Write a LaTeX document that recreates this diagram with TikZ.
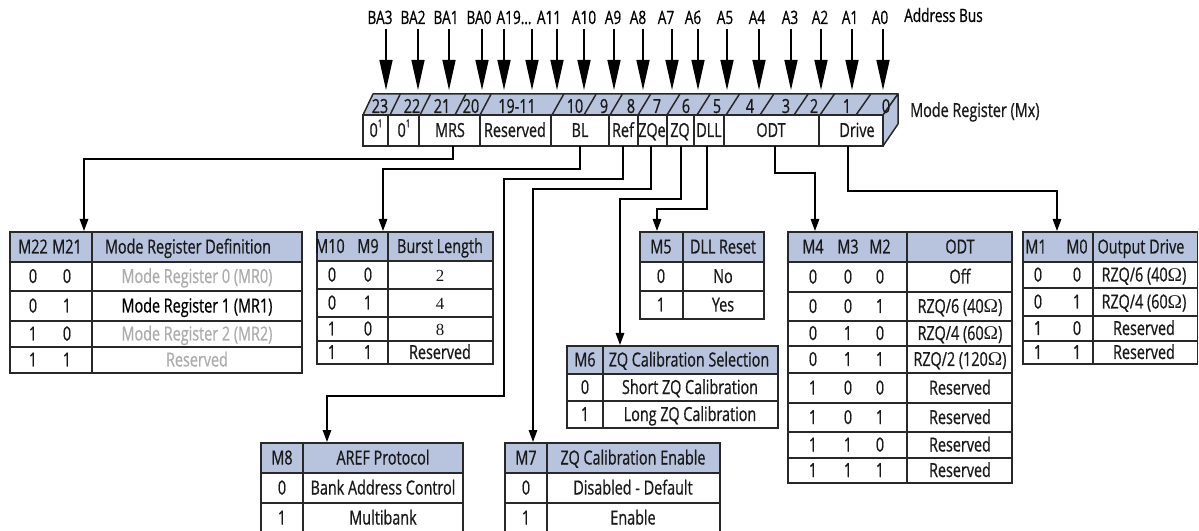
\documentclass[tikz,border=0pt]{standalone}
\usepackage{fontspec}
\setmainfont{Open Sans}[FakeStretch=0.74,FakeBold=0.7]
\newfontfamily\serifface{Liberation Serif}
\usetikzlibrary{arrows.meta}
\definecolor{hdrblue}{RGB}{184,196,221}
\definecolor{greytext}{RGB}{172,172,172}
\definecolor{linegray}{RGB}{40,40,40}
\newcommand{\ohmsym}{{\serifface Ω}}
\newcommand{\serdig}[1]{{\serifface\fontsize{17}{18}\selectfont #1}}
\newcommand{\smallsup}[1]{\raisebox{0.5em}{\fontsize{11}{12}\selectfont #1}}
\newcommand{\regtable}[4]{%
  \foreach \yy [count=\k] in {#4} {\xdef\ylast{\yy}\ifnum\k=1 \xdef\yfirst{\yy}\fi\ifnum\k=2 \xdef\ysecond{\yy}\fi}%
  \fill[hdrblue] (#1,\yfirst) rectangle (#3,\ysecond);
  \foreach \yy in {#4} {\draw[tline] (#1,\yy) -- (#3,\yy);}
  \draw[tline] (#1,\yfirst) rectangle (#3,\ylast);
  \draw[tline] (#2,\yfirst) -- (#2,\ylast);
}
\begin{document}
\begin{tikzpicture}[x=1bp,y=-1bp,
  tt/.style={font=\fontsize{19.5}{21}\selectfont, inner sep=0pt, anchor=base, text=black!90},
  lab/.style={font=\fontsize{18.5}{20}\selectfont, inner sep=0pt, anchor=base},
  bus/.style={line width=1.4bp, -{Triangle[length=30bp,width=13bp]}},
  conn/.style={line width=1.4bp, -{Triangle[length=12bp,width=8.5bp]}},
  tline/.style={line width=1.5bp, draw=linegray},
  face/.style={fill=hdrblue, draw=linegray, line width=1.5bp, line join=round}]
\useasboundingbox (0,0) rectangle (1199,531);
\begin{scope}
\clip (0,0) rectangle (1199,531);

% ---------- Address bus ----------
\foreach \x/\t [count=\i] in {380/BA3,413/BA2,446/BA1,479/BA0,549/A11,584/A10,613/A9,638/A8,666/A7,693/A6,725/A5,757/A4,790/A3,820/A2,850/A1,880/A0}
  \node[lab] (lb\i) at (\x,24) {\t};
\node[lab] (lbA19) at (514,24) {A19\ldots};
\node[lab, anchor=base west] (lbbus) at (904,22) {Address Bus};
\foreach \x [count=\i] in {386,418,449,482,504,532,557,584,614,643,672,698,727,759,791,821,852,883}{
  \coordinate (bs\i) at (\x,29);
  \coordinate (be\i) at (\x,90);
  \draw[bus] (bs\i) -- (be\i);
}

% ---------- Register ----------
\draw[face] (363,115) -- (373,94) -- (898,94) -- (883,115) -- cycle;
\draw[face] (883,115) -- (898,94) -- (898,124) -- (883,146) -- cycle;
\draw[tline, fill=white] (363,115) rectangle (883,146);
\foreach \x in {388,419,480,551,609,638,667,694,724,819}
  \draw[tline] (\x,115) -- (\x,146);
\foreach \x in {390,420,455,480,552,584,610,638,667,697,726,760,794,820,856}
  \draw[tline] (\x,115) -- ({\x+10+5*(\x-363)/520},94);
\foreach \x/\t [count=\i] in {380/23,412/22,442/21,471/20,517/19-11,575/10,604/9,631/8,657/7,686/6,717/5,750/4,786/3,814/2,847/1,886/0}
  \node[tt] (bn\i) at (\x,113) {\t};
\node[tt] (cz1) at (376,137) {0\smallsup{1}};
\node[tt] (cz2) at (404,137) {0\smallsup{1}};
\node[tt] (cMRS) at (450,137) {MRS};
\node[tt] (cRes) at (515,137) {Reserved};
\node[tt] (cBL) at (580,137) {BL};
\node[tt] (cRef) at (623,137) {Ref};
\node[tt] (cZQe) at (652,137) {ZQe};
\node[tt] (cZQ) at (680,137) {ZQ};
\node[tt] (cDLL) at (709,137) {DLL};
\node[tt] (cODT) at (771,137) {ODT};
\node[tt] (cDrv) at (857,137) {Drive};
\node[tt, anchor=base west] (mreg) at (910,117) {Mode Register (Mx)};

% ---------- connectors ----------
\coordinate (oMRS) at (453,146);  \coordinate (iMR) at (84,231);
\coordinate (oBL) at (580,146);   \coordinate (iBL) at (383,231);
\coordinate (oRef) at (623,146);  \coordinate (iRef) at (327,442);
\coordinate (oZQe) at (651,146);  \coordinate (iZQe) at (533,442);
\coordinate (oZQ) at (681,146);   \coordinate (iZQ) at (620,345);
\coordinate (oDLL) at (707,146);  \coordinate (iDLL) at (657,231);
\coordinate (oODT) at (775,146);  \coordinate (iODT) at (815,231);
\coordinate (oDrv) at (848,146);  \coordinate (iDrv) at (1057,231);
\draw[conn] (oMRS) |- (84,159) -- (iMR);
\draw[conn] (oBL) |- (383,169) -- (iBL);
\draw[conn] (oRef) |- (504,179) |- (327,396) -- (iRef);
\draw[conn] (oZQe) |- (533,189) -- (iZQe);
\draw[conn] (oZQ) |- (620,199) -- (iZQ);
\draw[conn] (oDLL) |- (657,209) -- (iDLL);
\draw[conn] (oODT) |- (815,173) -- (iODT);
\draw[conn] (oDrv) |- (1057,191) -- (iDrv);

% ---------- Mode Register Definition ----------
\regtable{10}{92}{302}{232,262,291,321,347,373}
\node[tt] (hM22) at (33,253.5) {M22};
\node[tt] (hM21) at (67,253.5) {M21};
\node[tt] (hMRD) at (188,253.5) {Mode Register Definition};
\foreach \yc/\a/\b/\t/\cl [count=\i] in {276.5/0/0/Mode Register 0 (MR0)/greytext,306/0/1/Mode Register 1 (MR1)/black,334/1/0/Mode Register 2 (MR2)/greytext,360/1/1/Reserved/greytext}{
  \node[tt] (mra\i) at (33,\yc+6.5) {\a};
  \node[tt] (mrb\i) at (67,\yc+6.5) {\b};
  \node[tt, text=\cl] (mrc\i) at (197,\yc+6.5) {\t};
}

% ---------- Burst Length ----------
\regtable{317}{388}{493}{232,261,289,317,341,364}
\node[tt] (hM10) at (330,253) {M10};
\node[tt] (hM9) at (368,253) {M9};
\node[tt] (hBL) at (440,253) {Burst Length};
\foreach \yc/\a/\b/\t [count=\i] in {275/0/0/\serdig{2},303/0/1/\serdig{4},329/1/0/\serdig{8},352.5/1/1/Reserved}{
  \node[tt] (bla\i) at (332,\yc+6.5) {\a};
  \node[tt] (blb\i) at (368,\yc+6.5) {\b};
  \node[tt] (blc\i) at (440,\yc+6.5) {\t};
}

% ---------- DLL Reset ----------
\regtable{640}{683}{764}{232,262,291,319}
\node[tt] (hM5) at (661,253.5) {M5};
\node[tt] (hDLL) at (723,253.5) {DLL Reset};
\foreach \yc/\a/\t [count=\i] in {276.5/0/No,305/1/Yes}{
  \node[tt] (dla\i) at (661,\yc+6.5) {\a};
  \node[tt] (dlb\i) at (723,\yc+6.5) {\t};
}

% ---------- ODT ----------
\regtable{788}{907}{1012}{232,262,292,321,346,373,403,432,458,483}
\node[tt] (hM4) at (813,253.5) {M4};
\node[tt] (hM3) at (848,253.5) {M3};
\node[tt] (hM2) at (880,253.5) {M2};
\node[tt] (hODT) at (960,253.5) {ODT};
\foreach \yc/\a/\b/\d/\t [count=\i] in {277/0/0/0/Off,306.5/0/0/1/{RZQ/6 (40\ohmsym)},333.5/0/1/0/{RZQ/4 (60\ohmsym)},359.5/0/1/1/{RZQ/2 (120\ohmsym)},388/1/0/0/Reserved,417.5/1/0/1/Reserved,445/1/1/0/Reserved,470.5/1/1/1/Reserved}{
  \node[tt] (oda\i) at (813,\yc+6.5) {\a};
  \node[tt] (odb\i) at (848,\yc+6.5) {\b};
  \node[tt] (odc\i) at (880,\yc+6.5) {\d};
  \node[tt] (odd\i) at (960,\yc+6.5) {\t};
}

% ---------- Output Drive ----------
\regtable{1023}{1093}{1197.5}{232,262,288,316,341,364}
\node[tt] (hM1) at (1036,253.5) {M1};
\node[tt] (hM0) at (1077,253.5) {M0};
\node[tt] (hOD) at (1141,253.5) {Output Drive};
\foreach \yc/\a/\b/\t [count=\i] in {275/0/0/{RZQ/6 (40\ohmsym)},302/0/1/{RZQ/4 (60\ohmsym)},328.5/1/0/Reserved,352.5/1/1/Reserved}{
  \node[tt] (ova\i) at (1038,\yc+6.5) {\a};
  \node[tt] (ovb\i) at (1077,\yc+6.5) {\b};
  \node[tt] (ovc\i) at (1144,\yc+6.5) {\t};
}

% ---------- ZQ Calibration Selection ----------
\regtable{567}{603}{778}{346,374,401,428}
\node[tt] (hM6) at (585,366.5) {M6};
\node[tt] (hZQS) at (689,366.5) {ZQ Calibration Selection};
\foreach \yc/\a/\t [count=\i] in {387.5/0/Short ZQ Calibration,414.5/1/Long ZQ Calibration}{
  \node[tt] (zsa\i) at (585,\yc+6.5) {\a};
  \node[tt] (zsb\i) at (690,\yc+6.5) {\t};
}

% ---------- AREF Protocol ----------
\regtable{261}{303}{463}{443,473,503,533}
\node[tt] (hM8) at (282,464.5) {M8};
\node[tt] (hAREF) at (383,464.5) {AREF Protocol};
\foreach \yc/\a/\t [count=\i] in {488/0/Bank Address Control,518/1/Multibank}{
  \node[tt] (ara\i) at (282,\yc+6.5) {\a};
  \node[tt] (arb\i) at (383,\yc+6.5) {\t};
}

% ---------- ZQ Calibration Enable ----------
\regtable{505}{547}{720}{443,473,503,533}
\node[tt] (hM7) at (526,464.5) {M7};
\node[tt] (hZQE) at (633,464.5) {ZQ Calibration Enable};
\foreach \yc/\a/\t [count=\i] in {488/0/Disabled - Default,518/1/Enable}{
  \node[tt] (zea\i) at (526,\yc+6.5) {\a};
  \node[tt] (zeb\i) at (633,\yc+6.5) {\t};
}
\end{scope}
\end{tikzpicture}
\end{document}
